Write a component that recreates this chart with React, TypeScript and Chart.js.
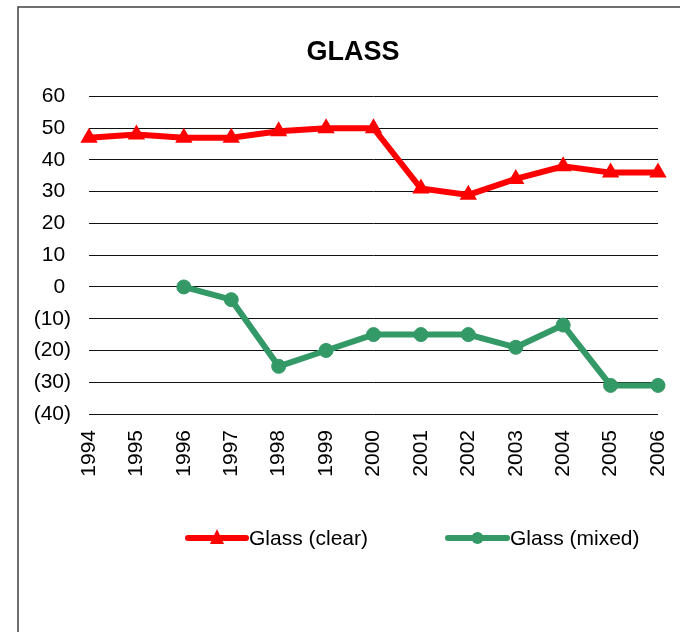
import React, { useEffect, useRef } from "react";
import { Chart, registerables } from "chart.js";

Chart.register(...registerables);

const categories = ["1994", "1995", "1996", "1997", "1998", "1999", "2000", "2001", "2002", "2003", "2004", "2005", "2006"];
const glassClear = [47, 48, 47, 47, 49, 50, 50, 31, 29, 34, 38, 36, 36];
const glassMixed = [null, null, 0, -4, -25, -20, -15, -15, -15, -19, -12, -31, -31];
const yMin = -40;
const yMax = 60;
const yStep = 10;

const FONT = "'Liberation Sans', Arial, Helvetica, sans-serif";
const RED = "#FF0000";
const GREEN = "#339966";

const framePlugin = {
  id: "frame",
  beforeDraw(chart: any) {
    const ctx = chart.ctx;
    ctx.save();
    ctx.fillStyle = "#ffffff";
    ctx.fillRect(0, 0, chart.width, chart.height);
    ctx.strokeStyle = "#404040";
    ctx.lineWidth = 1.5;
    ctx.strokeRect(18, 7, 800, 800);
    ctx.restore();
  },
};

const titleShiftPlugin = {
  id: "titleShift",
  afterLayout(chart: any) {
    const t = chart.titleBlock;
    if (t) {
      t.left = 26;
      t.right = 680;
      t.width = 654;
    }
  },
};

const legendPlugin = {
  id: "lineLegend",
  afterDraw(chart: any) {
    const ctx = chart.ctx;
    const y = 538;
    const items = [
      { x0: 188, x1: 246, tx: 249 },
      { x0: 448, x1: 507, tx: 510 },
    ];
    chart.data.datasets.forEach((ds: any, i: number) => {
      const it = items[i];
      if (!it) return;
      ctx.save();
      ctx.strokeStyle = ds.borderColor;
      ctx.lineWidth = 6;
      ctx.lineCap = "round";
      ctx.beginPath();
      ctx.moveTo(it.x0, y);
      ctx.lineTo(it.x1, y);
      ctx.stroke();
      ctx.fillStyle = ds.borderColor;
      const cx = (it.x0 + it.x1) / 2;
      ctx.beginPath();
      if (ds.pointStyle === "triangle") {
        ctx.moveTo(cx, y - 9);
        ctx.lineTo(cx + 7, y + 6);
        ctx.lineTo(cx - 7, y + 6);
        ctx.closePath();
      } else {
        ctx.arc(cx, y, 6, 0, Math.PI * 2);
      }
      ctx.fill();
      ctx.fillStyle = "#000";
      ctx.font = `21px ${FONT}`;
      ctx.textBaseline = "middle";
      ctx.textAlign = "left";
      ctx.fillText(ds.label, it.tx, y + 1);
      ctx.restore();
    });
  },
};

export default function App() {
  const ref = useRef<HTMLCanvasElement | null>(null);

  useEffect(() => {
    if (!ref.current) return;
    const chart = new Chart(ref.current, {
      type: "line",
      data: {
        labels: categories,
        datasets: [
          {
            label: "Glass (clear)",
            data: glassClear,
            borderColor: RED,
            backgroundColor: RED,
            borderWidth: 6,
            pointStyle: "triangle",
            pointRadius: 8,
            pointBorderWidth: 2,
            pointBackgroundColor: RED,
            pointBorderColor: RED,
            tension: 0,
          },
          {
            label: "Glass (mixed)",
            data: glassMixed,
            borderColor: GREEN,
            backgroundColor: GREEN,
            borderWidth: 6,
            pointStyle: "circle",
            pointRadius: 7,
            pointBorderWidth: 1,
            pointBackgroundColor: GREEN,
            pointBorderColor: GREEN,
            tension: 0,
          },
        ],
      },
      options: {
        responsive: false,
        animation: false,
        layout: { padding: { left: 26, right: 22, top: 7, bottom: 154 } },
        plugins: {
          legend: { display: false },
          tooltip: { enabled: false },
          title: {
            display: true,
            text: "GLASS",
            color: "#000",
            font: { family: FONT, size: 27, weight: "bold" },
            padding: { top: 29, bottom: 28 },
          },
        },
        scales: {
          x: {
            offset: false,
            grid: {
              display: true,
              drawOnChartArea: false,
              drawTicks: true,
              tickLength: 16,
              tickColor: "rgba(0,0,0,0)",
              color: "rgba(0,0,0,0)",
            },
            border: { display: false },
            ticks: {
              color: "#000",
              font: { family: FONT, size: 21, lineHeight: 1 },
              minRotation: 90,
              maxRotation: 90,
              padding: 0,
              autoSkip: false,
            },
            afterFit(scale: any) {
              scale.height = 64;
            },
          },
          y: {
            min: yMin,
            max: yMax,
            grid: { color: "#111", lineWidth: 1, drawTicks: false },
            border: { display: false },
            ticks: {
              stepSize: yStep,
              color: "#000",
              font: { family: FONT, size: 21 },
              padding: 18,
              callback: (v: any) => (v < 0 ? `(${-v})` : `${v} `),
            },
            afterFit(scale: any) {
              scale.width = 63;
            },
          },
        },
      },
      plugins: [framePlugin, titleShiftPlugin, legendPlugin],
    });
    return () => chart.destroy();
  }, []);

  return (
    <div style={{ position: "fixed", left: 0, top: 0, width: 680, height: 632, overflow: "hidden", background: "#fff" }}>
      <canvas ref={ref} width={680} height={632} />
    </div>
  );
}
